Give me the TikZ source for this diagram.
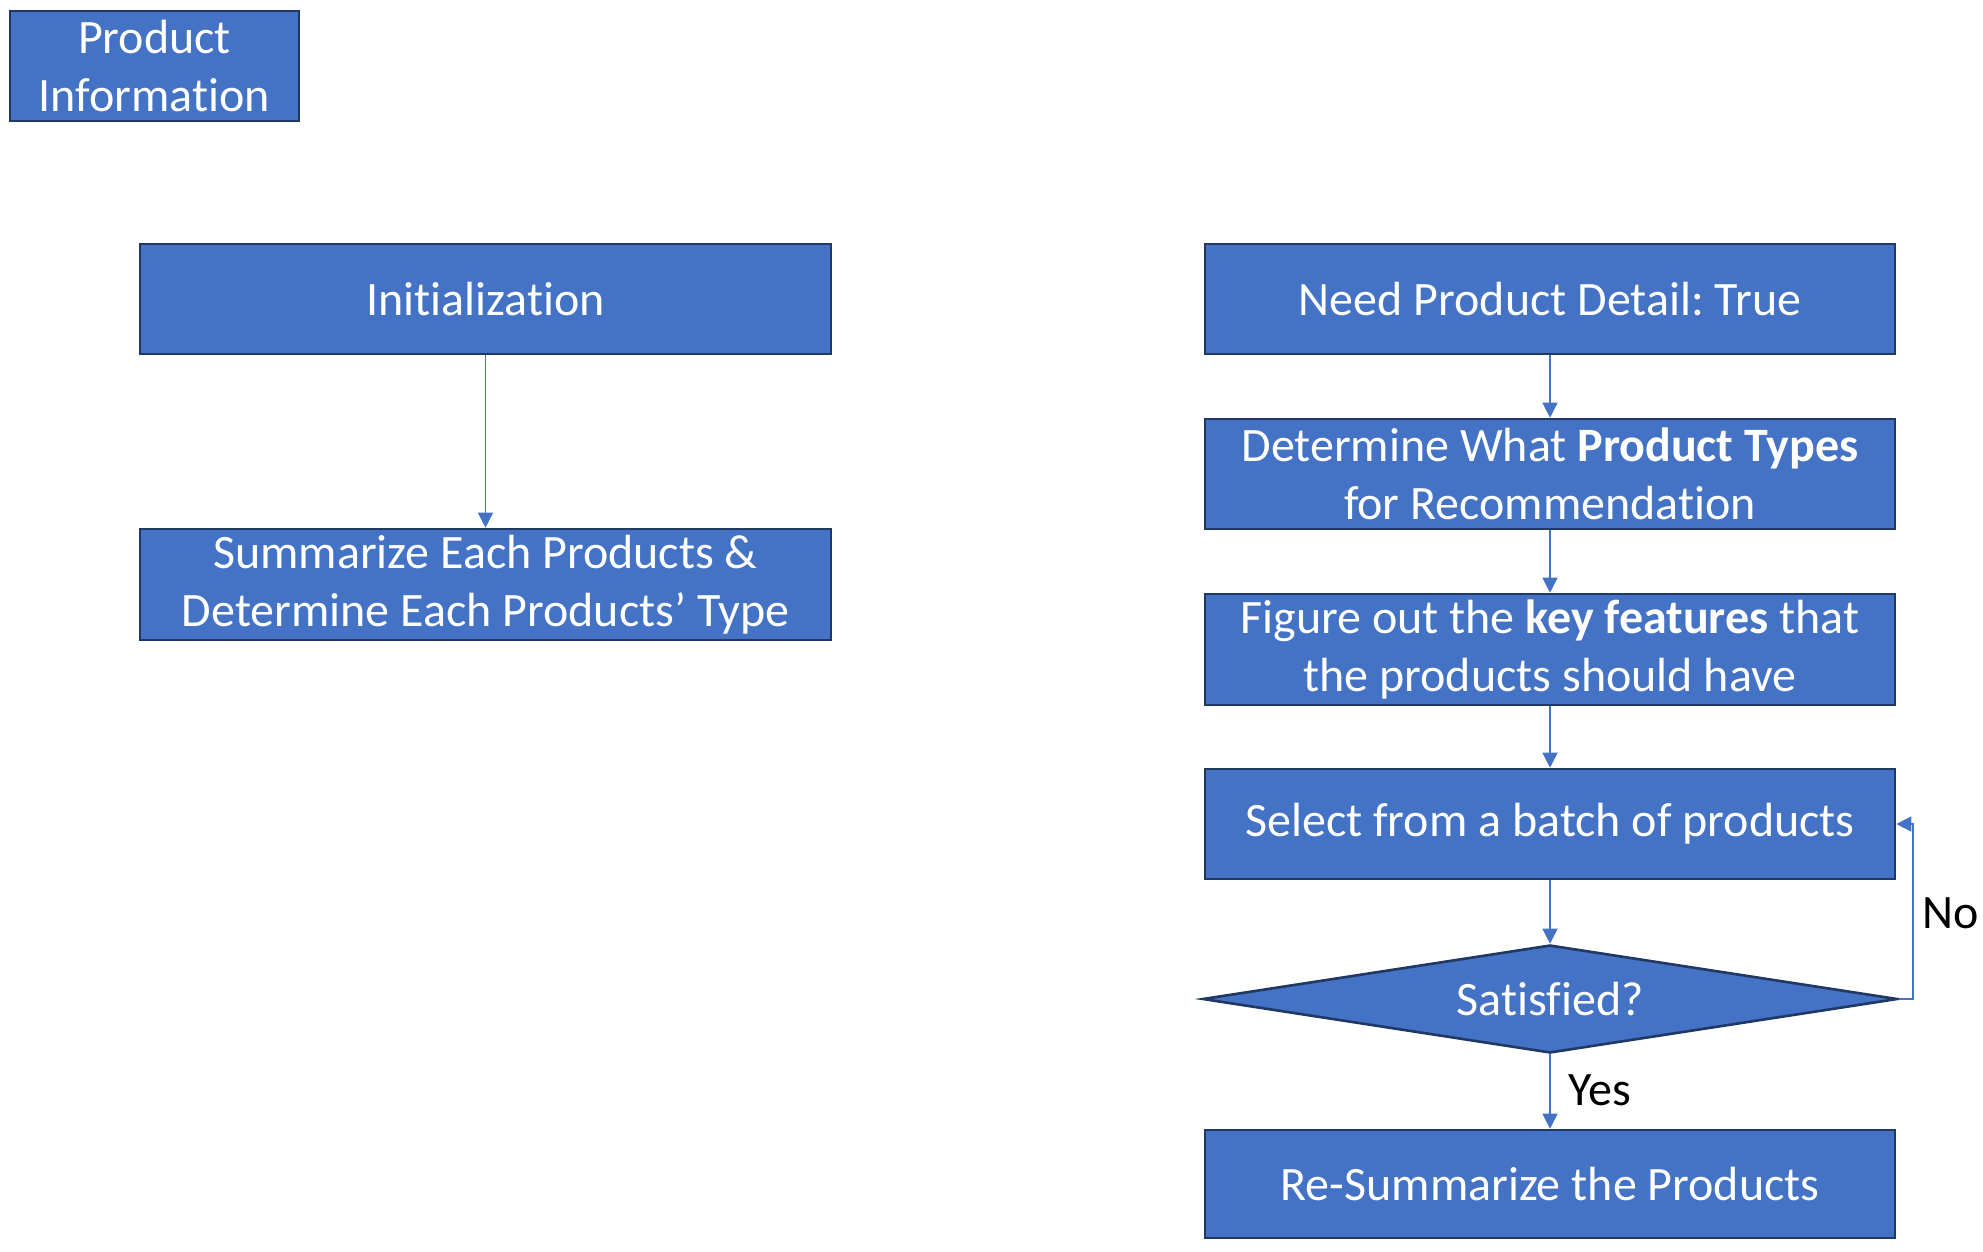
\documentclass[tikz,border=0pt]{standalone}
\usepackage{fontspec}
\setmainfont{Carlito}[Ligatures=NoCommon]
\frenchspacing
\usetikzlibrary{shapes.geometric,arrows.meta}
\definecolor{boxfill}{HTML}{4472C4}
\definecolor{boxline}{HTML}{1F3864}
\tikzset{
  px/.style={x=1pt,y=-1pt},
  box/.style={draw=boxline,fill=boxfill,line width=2.6pt,text=white,inner sep=0pt,align=center,font=\fontsize{48}{58}\selectfont},
  flow/.style={draw=boxfill,line width=1.4pt,-{Triangle[width=15pt,length=15pt]}},
  lbl/.style={text=black,font=\fontsize{48}{58}\selectfont,inner sep=0pt}
}
\begin{document}
\begin{tikzpicture}[px]
\useasboundingbox (0,0) rectangle (1983,1251);
\node[box,minimum width=289pt,minimum height=110pt] (info) at (154.5,66) {Product\\Information};
\node[box,minimum width=691pt,minimum height=110pt] (init) at (485.5,299) {Initialization};
\node[box,minimum width=691pt,minimum height=111pt] (summ) at (485.5,584.5) {Summarize Each Products \&\\Determine Each Products’ Type};
\node[box,minimum width=690pt,minimum height=110pt] (need) at (1550,299) {Need Product Detail: True};
\node[box,minimum width=690pt,minimum height=110pt] (det) at (1550,474) {Determine What \textbf{Product Types}\\for Recommendation};
\node[box,minimum width=690pt,minimum height=111pt] (fig) at (1550,649.5) {Figure out the \textbf{key features} that\\the products should have};
\node[box,minimum width=690pt,minimum height=110pt] (sel) at (1550,824) {Select from a batch of products};
\node[box,diamond,aspect=6.37,minimum width=695pt,minimum height=108pt,inner sep=0pt] (sat) at (1550,999) {Satisfied?};
\node[box,minimum width=690pt,minimum height=108pt] (res) at (1550,1184) {Re-Summarize the Products};
\coordinate (nocorner) at (1913,999);
\node[lbl,anchor=west] (no) at (1922,913) {No};
\node[lbl,anchor=west] (yes) at (1568,1090) {Yes};
\draw[flow] (init) -- (summ);
\draw[flow] (need) -- (det);
\draw[flow] (det) -- (fig);
\draw[flow] (fig) -- (sel);
\draw[flow] (sel) -- (sat);
\draw[flow] (sat) -- (res);
\draw[flow] (sat.east) -- (nocorner) |- (sel.east);
\end{tikzpicture}
\end{document}
